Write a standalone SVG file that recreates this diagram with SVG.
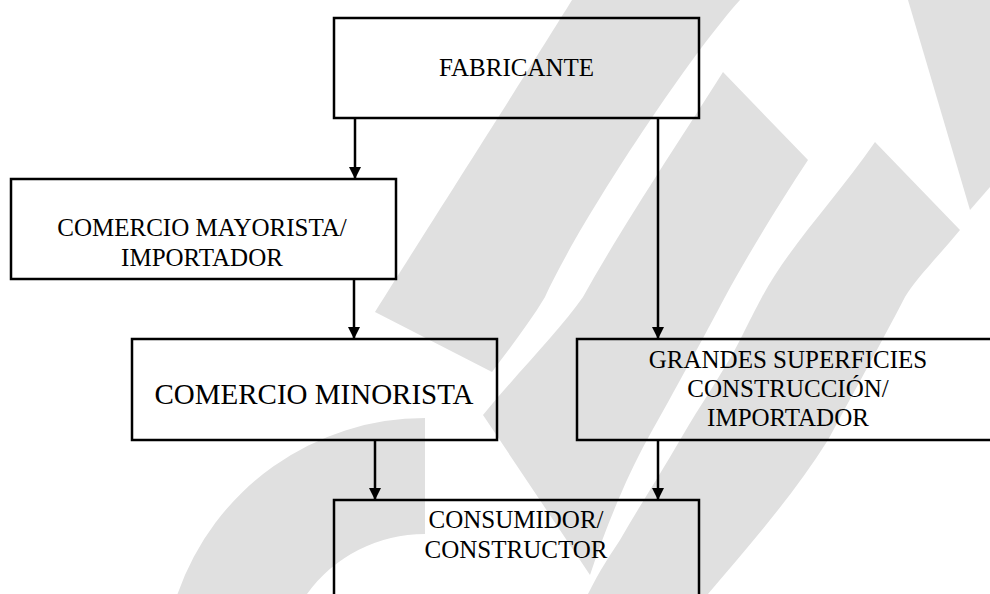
<svg xmlns="http://www.w3.org/2000/svg" width="990" height="594" viewBox="0 0 990 594">
<defs>
<style>
.wm{fill:#e0e0e0;stroke:none}
.box{fill:none;stroke:#000;stroke-width:2.5}
.t{font-family:"Liberation Serif","Times New Roman",serif;font-size:25px;fill:#000;text-anchor:middle}
.big{font-size:29px}
.con{stroke:#000;stroke-width:2.5;fill:none;marker-end:url(#ah)}
</style>
<marker id="ah" markerUnits="userSpaceOnUse" markerWidth="12" markerHeight="12" refX="12" refY="6" orient="auto">
<path d="M0,0 L12,6 L0,12 Z" fill="#000"/>
</marker>
</defs>
<rect width="990" height="594" fill="#fff"/>
<g id="watermark">
<path class="wm" d="M572,0 L740,0 C690,55 580,220 545,297 C530,322 510,348 492,372 L375,312 C420,240 535,60 572,0 Z"/>
<path class="wm" d="M723,72 L808,160 C775,210 745,260 725,297 C705,335 675,390 647,440 C625,480 605,530 590,575 L483,415 C520,370 560,330 583,297 C620,230 680,140 723,72 Z"/>
<path class="wm" d="M875,142 L960,230 C935,260 915,280 905,297 C880,345 855,390 828,440 C790,500 745,550 708,594 L588,594 C600,570 610,555 620,540 C640,505 660,475 680,440 C700,405 725,370 740,340 C750,320 755,310 762,297 C790,245 835,200 875,142 Z"/>
<path class="wm" d="M908,0 L990,0 L990,187 L970,210 Z"/>
<path class="wm" d="M425,418 A262,262 0 0 0 177.5,594 L307,594 A146,146 0 0 1 425,534 Z"/>
</g>
<g id="connectors">
<line class="con" x1="355" y1="118" x2="355" y2="179"/>
<line class="con" x1="658" y1="118" x2="658" y2="339"/>
<line class="con" x1="354" y1="279" x2="354" y2="339"/>
<line class="con" x1="375" y1="440" x2="375" y2="500"/>
<line class="con" x1="658" y1="440" x2="658" y2="500"/>
</g>
<g id="fabricante">
<rect class="box" x="334" y="18" width="365" height="100"/>
<text class="t" x="516.5" y="76">FABRICANTE</text>
</g>
<g id="mayorista">
<rect class="box" x="11" y="179" width="385" height="100"/>
<text class="t" x="202" y="236">COMERCIO MAYORISTA/</text>
<text class="t" x="202" y="266">IMPORTADOR</text>
</g>
<g id="minorista">
<rect class="box" x="132" y="339" width="365" height="101"/>
<text class="t big" x="314" y="404">COMERCIO MINORISTA</text>
</g>
<g id="grandes">
<rect class="box" x="577" y="339" width="425" height="101"/>
<text class="t" x="788" y="368">GRANDES SUPERFICIES</text>
<text class="t" x="788" y="397">CONSTRUCCIÓN/</text>
<text class="t" x="788" y="426">IMPORTADOR</text>
</g>
<g id="consumidor">
<rect class="box" x="334" y="500" width="365" height="110"/>
<text class="t" x="516" y="528">CONSUMIDOR/</text>
<text class="t" x="516" y="558">CONSTRUCTOR</text>
</g>
</svg>
